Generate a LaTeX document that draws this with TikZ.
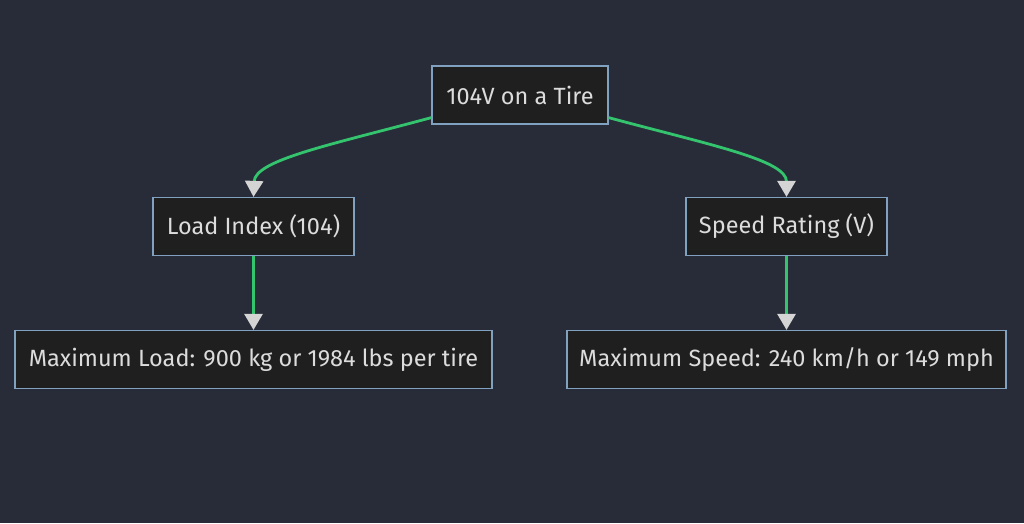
\documentclass[tikz,border=0pt]{standalone}
\usepackage{fontspec}
\setmainfont{Fira Sans}
\usepackage{xcolor}
\usetikzlibrary{arrows.meta}
\usetikzlibrary{positioning}

\definecolor{bgcol}{HTML}{282C38}
\definecolor{boxfill}{HTML}{1F1F1F}
\definecolor{boxline}{HTML}{81A1C1}
\definecolor{textcol}{HTML}{DCDCDC}
\definecolor{edgecol}{HTML}{34C46E}
\definecolor{tipcol}{HTML}{D4D4D4}

\begin{document}
\begin{tikzpicture}[
        x=1pt, y=-1pt,
        %
        box node/.style={
            rectangle,
            draw=boxline,
            fill=boxfill,
            line width=1.2pt,
            minimum height=58pt,
            inner sep=0pt,
            text=textcol,
            font=\fontsize{23.5}{27}\selectfont,
        },
        flow edge/.style={draw=edgecol, line width=2.8pt,
            -{Triangle[width=18pt,length=16pt,color=tipcol]}},
        ]

        \fill[bgcol] (0,0) rectangle (1024,523);
        \useasboundingbox (0,0) rectangle (1024,523);

        % Vertices

        \node[box node, minimum width=176pt] (tire) at (520,95) {104V on a Tire};
        \node[box node, minimum width=201pt] (load) at (253.5,226.5) {Load Index (104)};
        \node[box node, minimum width=201pt] (speed) at (786.5,226.5) {Speed Rating (V)};
        \node[box node, minimum width=477pt] (maxload) at (253.5,359.5) {Maximum Load: 900 kg or 1984 lbs per tire};
        \node[box node, minimum width=439pt] (maxspeed) at (786.5,359.5) {Maximum Speed: 240 km/h or 149 mph};

        % Edges

        \draw[flow edge] ([yshift=7pt]tire.south west) .. controls (330,145) and (255,160) .. (load.north);
        \draw[flow edge] ([yshift=7pt]tire.south east) .. controls (710,145) and (786.5,160) .. (speed.north);
        %
        \draw[flow edge] (load) -- (maxload);
        \draw[flow edge] (speed) -- (maxspeed);
\end{tikzpicture}
\end{document}
